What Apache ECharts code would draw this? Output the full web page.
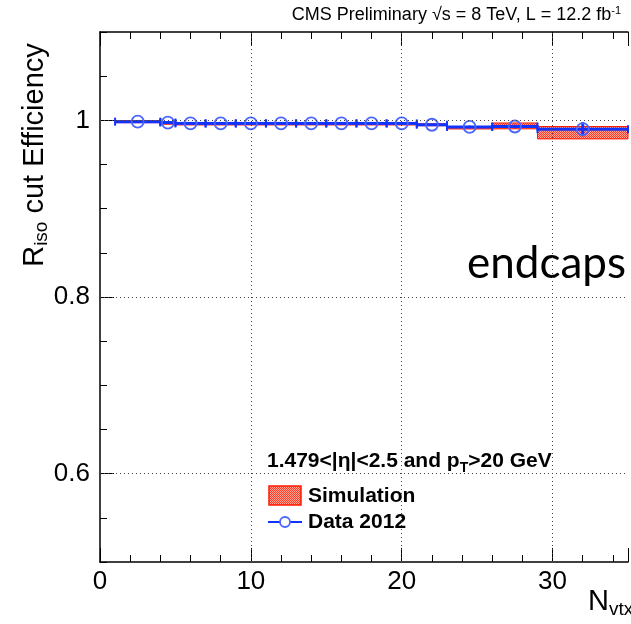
<!DOCTYPE html>
<html>
<head>
<meta charset="utf-8">
<script src="https://cdn.jsdelivr.net/npm/echarts@6/dist/echarts.min.js"></script>
<style>
  html, body { margin: 0; padding: 0; background: #fff; }
  #chart { width: 631px; height: 624px; }
</style>
</head>
<body>
<div id="chart"></div>
<script>
// bins in number of vertices
const binLo = [1, 4, 5, 7, 9, 11, 13, 15, 17, 19, 21, 23, 26, 29];
const binHi = [4, 5, 7, 9, 11, 13, 15, 17, 19, 21, 23, 26, 29, 35];
const binCenter = [2.5, 4.5, 6, 8, 10, 12, 14, 16, 18, 20, 22, 24.5, 27.5, 32];

// Data 2012
const dataEff = [0.9985, 0.9975, 0.9965, 0.9965, 0.9965, 0.9965, 0.9965, 0.9965, 0.9965, 0.9965, 0.995, 0.9925, 0.993, 0.990];
const dataErr = [0.001, 0.001, 0.0008, 0.0008, 0.0008, 0.0008, 0.0008, 0.0008, 0.0008, 0.001, 0.001, 0.0015, 0.002, 0.008];

// Simulation
const simEff = [0.999, 0.997, 0.9965, 0.9965, 0.9965, 0.9965, 0.9965, 0.9965, 0.9965, 0.9965, 0.9955, 0.9915, 0.9937, 0.986];
const simErr = [0.0006, 0.0008, 0.0005, 0.0005, 0.0005, 0.0005, 0.0005, 0.0005, 0.0005, 0.0005, 0.0006, 0.001, 0.0033, 0.007];

const xTicks = [0, 10, 20, 30];
const yTicks = [0.6, 0.8, 1.0];

const FONT = '"Liberation Sans", Arial, sans-serif';
const BLUE = '#1133ff';

// red checkered fill like the ROOT hatch
const pat = document.createElement('canvas');
pat.width = 2; pat.height = 2;
const pc = pat.getContext('2d');
pc.fillStyle = '#ffa898'; pc.fillRect(0, 0, 2, 2);
pc.fillStyle = '#ff3a26'; pc.fillRect(0, 0, 1, 1); pc.fillRect(1, 1, 1, 1);
const simFill = { image: pat, repeat: 'repeat' };

const simRows = binLo.map((lo, i) => [lo, binHi[i], simEff[i] - simErr[i], simEff[i] + simErr[i]]);
const dataRows = binLo.map((lo, i) => [lo, binHi[i], binCenter[i], dataEff[i], dataErr[i]]);

const chart = echarts.init(document.getElementById('chart'), null, { renderer: 'canvas' });

const baseX = { type: 'value', min: 0, max: 35, gridIndex: 0, splitLine: { show: false } };
const baseY = { type: 'value', min: 0.5, max: 1.1, gridIndex: 0, splitLine: { show: false } };

const option = {
  animation: false,
  grid: { left: 100, top: 32, width: 536, height: 530 },
  xAxis: [
    Object.assign({}, baseX, {
      position: 'bottom', interval: 10,
      axisLine: { show: true, lineStyle: { color: '#000', width: 1.5 } },
      axisTick: { inside: true, length: 14, lineStyle: { color: '#000', width: 1 } },
      axisLabel: { color: '#000', fontSize: 26, fontFamily: FONT, margin: 7,
        formatter: v => (xTicks.indexOf(v) >= 0 ? String(v) : '') }
    }),
    Object.assign({}, baseX, {
      position: 'bottom', interval: 2,
      axisLine: { show: false },
      axisTick: { inside: true, length: 7, lineStyle: { color: '#000' } },
      axisLabel: { show: false }
    }),
    Object.assign({}, baseX, {
      position: 'top', interval: 10,
      axisLine: { show: true, lineStyle: { color: '#000', width: 1.5 } },
      axisTick: { inside: true, length: 14, lineStyle: { color: '#000' } },
      axisLabel: { show: false }
    }),
    Object.assign({}, baseX, {
      position: 'top', interval: 2,
      axisLine: { show: false },
      axisTick: { inside: true, length: 7, lineStyle: { color: '#000' } },
      axisLabel: { show: false }
    })
  ],
  yAxis: [
    Object.assign({}, baseY, {
      position: 'left',
      axisLine: { show: true, lineStyle: { color: '#000', width: 1.5 } },
      axisTick: { inside: true, length: 14, customValues: yTicks, lineStyle: { color: '#000' } },
      axisLabel: { color: '#000', fontSize: 26, fontFamily: FONT, margin: 10, customValues: yTicks,
        formatter: v => (Math.abs(v - 1) < 1e-9 ? '1' : v.toFixed(1)) }
    }),
    Object.assign({}, baseY, {
      position: 'left', interval: 0.05,
      axisLine: { show: false },
      axisTick: { inside: true, length: 7, lineStyle: { color: '#000' } },
      axisLabel: { show: false }
    })
  ],
  series: [
    {
      // dotted grid
      type: 'line', data: [], silent: true, z: 0,
      markLine: {
        silent: true, symbol: 'none', label: { show: false },
        lineStyle: { color: '#444', type: [1, 3], width: 1 },
        data: xTicks.slice(1).map(v => ({ xAxis: v })).concat(yTicks.map(v => ({ yAxis: v })))
      }
    },
    {
      name: 'Simulation',
      type: 'custom',
      z: 3,
      data: simRows,
      encode: { x: [0, 1], y: [2, 3] },
      renderItem: (params, api) => {
        const p1 = api.coord([api.value(0), api.value(3)]);
        const p2 = api.coord([api.value(1), api.value(2)]);
        return {
          type: 'rect',
          shape: { x: p1[0], y: p1[1], width: p2[0] - p1[0], height: Math.max(p2[1] - p1[1], 2) },
          style: { fill: simFill, stroke: '#ff1a00', lineWidth: 1 }
        };
      }
    },
    {
      name: 'Data 2012',
      type: 'custom',
      z: 4,
      data: dataRows,
      encode: { x: [0, 1, 2], y: 3 },
      renderItem: (params, api) => {
        const y = api.value(3), e = api.value(4);
        const a = api.coord([api.value(0), y]);
        const b = api.coord([api.value(1), y]);
        const c = api.coord([api.value(2), y]);
        const top = api.coord([api.value(2), y + e]);
        const bot = api.coord([api.value(2), y - e]);
        const ls = { stroke: BLUE, lineWidth: 3 };
        return {
          type: 'group',
          children: [
            { type: 'line', shape: { x1: a[0], y1: a[1], x2: b[0], y2: b[1] }, style: ls },
            { type: 'line', shape: { x1: a[0], y1: a[1] - 4, x2: a[0], y2: a[1] + 4 }, style: { stroke: BLUE, lineWidth: 2 } },
            { type: 'line', shape: { x1: b[0], y1: b[1] - 4, x2: b[0], y2: b[1] + 4 }, style: { stroke: BLUE, lineWidth: 2 } },
            { type: 'line', shape: { x1: c[0], y1: top[1], x2: c[0], y2: bot[1] }, style: ls },
            { type: 'circle', shape: { cx: c[0], cy: c[1], r: 6 }, style: { fill: 'rgba(0,0,0,0)', stroke: '#4a66ff', lineWidth: 1.8 } }
          ]
        };
      }
    }
  ],
  graphic: [
    {
      type: 'text', right: 10, top: 5,
      style: {
        text: '{t|CMS Preliminary √s = 8 TeV, L = 12.2 fb}{s|-1}',
        rich: {
          t: { fontSize: 18, fontFamily: FONT, fill: '#000' },
          s: { fontSize: 11, fontFamily: FONT, fill: '#000', verticalAlign: 'top', padding: [0, 0, 10, 0] }
        }
      }
    },
    {
      type: 'text', x: 35, y: 155, rotation: Math.PI / 2,
      style: {
        text: '{t|R}{s|iso}{t| cut Efficiency}',
        align: 'center', verticalAlign: 'middle',
        rich: {
          t: { fontSize: 29, fontFamily: FONT, fill: '#000' },
          s: { fontSize: 19, fontFamily: FONT, fill: '#000', padding: [13, 0, 0, 0] }
        }
      }
    },
    {
      type: 'text', x: 588, y: 602,
      style: {
        text: '{t|N}{s|vtx}',
        verticalAlign: 'middle',
        rich: {
          t: { fontSize: 29, fontFamily: FONT, fill: '#000' },
          s: { fontSize: 19, fontFamily: FONT, fill: '#000', padding: [15, 0, 0, 0] }
        }
      }
    },
    {
      type: 'text', x: 467, y: 264,
      style: { text: 'endcaps', fontSize: 44, fontFamily: 'Lato, "Open Sans", sans-serif', fill: '#000', verticalAlign: 'middle' }
    },
    {
      type: 'text', x: 267, y: 461,
      style: {
        text: '{a|1.479<|η|<2.5 and p}{s|T}{a|>20 GeV}',
        verticalAlign: 'middle',
        rich: {
          a: { fontSize: 21, fontWeight: 'bold', fontFamily: FONT, fill: '#000' },
          s: { fontSize: 14, fontWeight: 'bold', fontFamily: FONT, fill: '#000', padding: [15, 0, 0, 0] }
        }
      }
    },
    {
      type: 'rect', shape: { x: 269, y: 486, width: 32, height: 19 },
      style: { fill: simFill, stroke: '#ff1a00', lineWidth: 1.5 }
    },
    {
      type: 'text', x: 308, y: 496,
      style: { text: 'Simulation', fontSize: 21, fontWeight: 'bold', fontFamily: FONT, fill: '#000', verticalAlign: 'middle' }
    },
    {
      type: 'line', shape: { x1: 268, y1: 522, x2: 302, y2: 522 },
      style: { stroke: BLUE, lineWidth: 2 }
    },
    {
      type: 'circle', shape: { cx: 285, cy: 522, r: 5 },
      style: { fill: '#fff', stroke: '#4a66ff', lineWidth: 1.8 }
    },
    {
      type: 'text', x: 308, y: 522,
      style: { text: 'Data 2012', fontSize: 21, fontWeight: 'bold', fontFamily: FONT, fill: '#000', verticalAlign: 'middle' }
    }
  ]
};

chart.setOption(option);
</script>
</body>
</html>
